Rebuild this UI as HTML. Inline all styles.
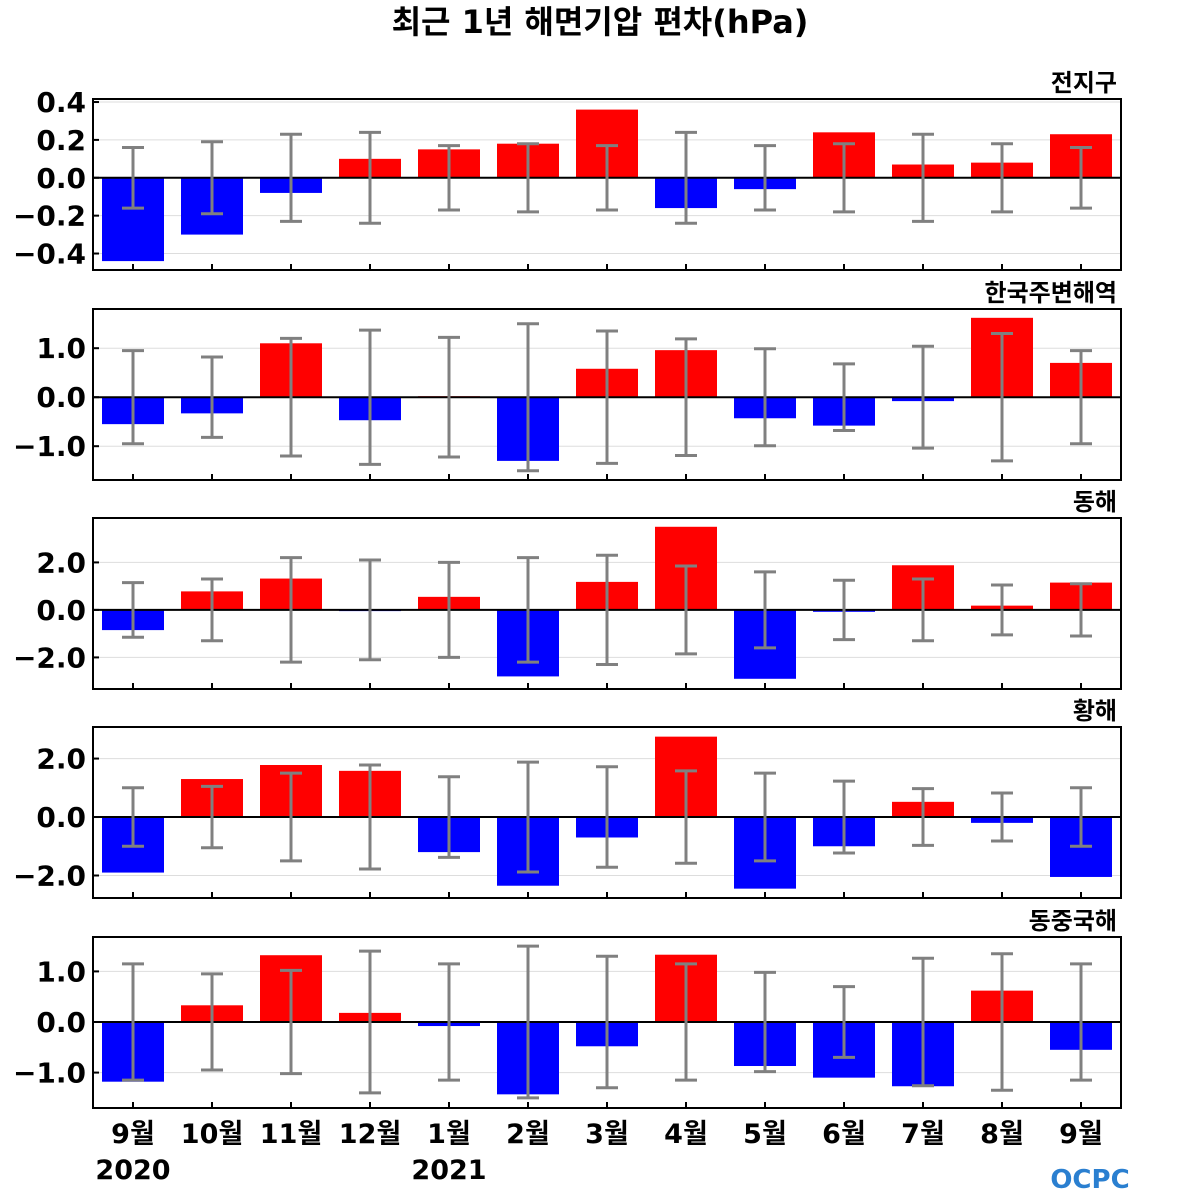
<!DOCTYPE html>
<html><head><meta charset="utf-8">
<style>
body{margin:0;background:#fff;}
svg{display:block;font-family:"DejaVu Sans","Noto Sans CJK KR",sans-serif;}
</style></head>
<body>
<svg id="chart" width="1200" height="1200" viewBox="0 0 1200 1200">
<text x="600" y="33" text-anchor="middle" font-size="32" font-weight="bold">최근 1년 해면기압 편차(hPa)</text>
</svg>
<script>
const months = ["9월","10월","11월","12월","1월","2월","3월","4월","5월","6월","7월","8월","9월"];
const years = ["2020","","","","2021","","","","","","","",""];
const panelNames = ["전지구","한국주변해역","동해","황해","동중국해"];
const globalVals = [-0.44,-0.30,-0.08,0.10,0.15,0.18,0.36,-0.16,-0.06,0.24,0.07,0.08,0.23];
const globalErr = [0.16,0.19,0.23,0.24,0.17,0.18,0.17,0.24,0.17,0.18,0.23,0.18,0.16];
const koreaVals = [-0.55,-0.33,1.10,-0.47,0.02,-1.30,0.58,0.96,-0.43,-0.58,-0.08,1.62,0.70];
const koreaErr = [0.95,0.82,1.20,1.37,1.22,1.50,1.35,1.19,0.99,0.68,1.04,1.30,0.95];
const eastVals = [-0.85,0.78,1.32,-0.05,0.55,-2.80,1.18,3.50,-2.90,-0.08,1.88,0.18,1.15];
const eastErr = [1.15,1.30,2.20,2.10,2.00,2.20,2.30,1.85,1.60,1.25,1.30,1.05,1.10];
const yellowVals = [-1.90,1.30,1.78,1.58,-1.20,-2.35,-0.70,2.75,-2.45,-1.00,0.52,-0.20,-2.05];
const yellowErr = [1.00,1.05,1.50,1.78,1.38,1.88,1.72,1.58,1.50,1.23,0.97,0.82,1.00];
const ecsVals = [-1.18,0.33,1.32,0.18,-0.08,-1.43,-0.48,1.33,-0.87,-1.10,-1.27,0.62,-0.55];
const ecsErr = [1.15,0.95,1.02,1.40,1.15,1.50,1.30,1.15,0.98,0.70,1.26,1.35,1.15];
const yTicks0 = [0.4,0.2,0,-0.2,-0.4];
const yTicks1 = [1,0,-1];
const yTicks2 = [2,0,-2];
const yTicks3 = [2,0,-2];
const yTicks4 = [1,0,-1];

const svg = document.getElementById('chart');
const NS = "http://www.w3.org/2000/svg";
function mk(tag, attrs){const e=document.createElementNS(NS,tag);for(const k in attrs)e.setAttribute(k,attrs[k]);svg.appendChild(e);return e;}
const X0=93, X1=1121, step=79, firstC=133, bw=62;
function xc(i){return firstC+i*step;}
const panels=[
 {top:99,bot:270,ymax:0.416,ymin:-0.487,vals:globalVals,err:globalErr,ticks:yTicks0,dec:1},
 {top:309,bot:480,ymax:1.80,ymin:-1.69,vals:koreaVals,err:koreaErr,ticks:yTicks1,dec:1},
 {top:518,bot:689,ymax:3.87,ymin:-3.33,vals:eastVals,err:eastErr,ticks:yTicks2,dec:1},
 {top:727,bot:898,ymax:3.08,ymin:-2.77,vals:yellowVals,err:yellowErr,ticks:yTicks3,dec:1},
 {top:937,bot:1108,ymax:1.68,ymin:-1.70,vals:ecsVals,err:ecsErr,ticks:yTicks4,dec:1}
];
panels.forEach((p,pi)=>{
  const y=v=>p.top+(p.ymax-v)/(p.ymax-p.ymin)*(p.bot-p.top);
  p.ticks.forEach(t=>{
    if(t!==0){const g=mk('line',{x1:X0,x2:X1,y1:y(t),y2:y(t),stroke:'#dddddd','stroke-width':1});
    
    }
    const tl=mk('text',{x:86,y:y(t)+10,'text-anchor':'end','font-size':28,'font-weight':'bold'});
    tl.textContent=(t<0?'\u2212':'')+Math.abs(t).toFixed(p.dec);
    
    
    const tk=mk('line',{x1:X0,x2:X0+6,y1:y(t),y2:y(t),stroke:'#000','stroke-width':2});
    
    
  });
  p.vals.forEach((v,i)=>{
    const r=mk('rect',{x:xc(i)-bw/2,width:bw,y:Math.min(y(v),y(0)),height:Math.max(Math.abs(y(v)-y(0)),1),fill:v>=0?'#ff0000':'#0000ff'});
    
    
  });
  const z=mk('line',{x1:X0,x2:X1,y1:y(0),y2:y(0),stroke:'#000','stroke-width':2});
  
  
  p.err.forEach((e,i)=>{
    const c=xc(i);
    const g=mk('path',{d:`M${c},${y(e)}V${y(-e)}M${c-11},${y(e)}H${c+11}M${c-11},${y(-e)}H${c+11}`,stroke:'#808080','stroke-width':3,fill:'none'});
    
    
    const tk=mk('line',{x1:c,x2:c,y1:p.bot,y2:p.bot-6,stroke:'#000','stroke-width':2});
    
    
  });
  const fr=mk('rect',{x:X0,y:p.top,width:X1-X0,height:p.bot-p.top,fill:'none',stroke:'#000','stroke-width':2});
  
  
  const t=mk('text',{x:1117,y:p.top-8,'text-anchor':'end','font-size':24,'font-weight':'bold'});
  t.textContent=panelNames[pi];
  
  
});
months.forEach((m,i)=>{
  const t=mk('text',{x:xc(i),y:1143,'text-anchor':'middle','font-size':27,'font-weight':'bold'});
  t.textContent=m;
  
  
  if(years[i]){
    const yt=mk('text',{x:xc(i),y:1179,'text-anchor':'middle','font-size':27,'font-weight':'bold'});
    yt.textContent=years[i];
    
    
  }
});
const logo=mk('text',{x:1090,y:1188,'text-anchor':'middle','font-size':26,'font-weight':'bold',fill:'#2a7fd0'});
logo.textContent='OCPC';


</script>
</body></html>
